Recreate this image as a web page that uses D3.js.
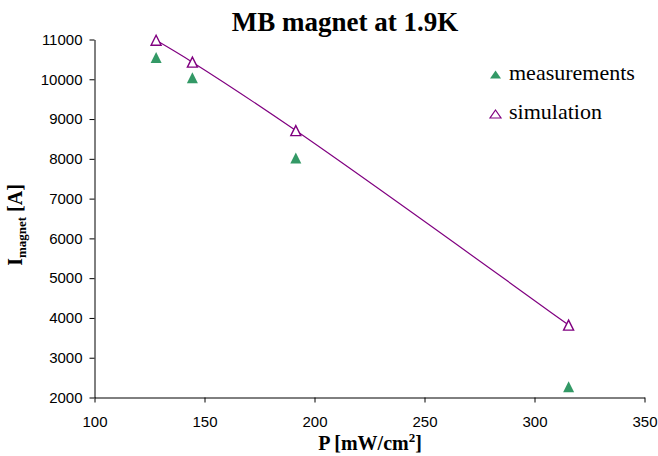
<!DOCTYPE html>
<html>
<head>
<meta charset="utf-8">
<script src="https://cdn.jsdelivr.net/npm/d3@7"></script>
<style>
  body { margin: 0; background: #fff; }
</style>
</head>
<body>
<div id="container"></div>
<script>
  // values
  const power = [128, 144.5, 191.5, 315.5];
  const measured = [10550, 10040, 8020, 2270];
  const simulated = [10980, 10430, 8710, 3820];
  const xTicks = [100, 150, 200, 250, 300, 350];
  const yTicks = [2000, 3000, 4000, 5000, 6000, 7000, 8000, 9000, 10000, 11000];

  const width = 658, height = 456;

  const svg = d3.create("svg")
      .attr("width", width)
      .attr("height", height);

  const x = d3.scaleLinear().domain([100, 350]).range([94.5, 644.5]);
  const y = d3.scaleLinear().domain([2000, 11000]).range([397.5, 39.5]);

  // axes
  const xAxis = svg.append("g")
      .attr("transform", `translate(0,${y(2000)})`)
      .call(d3.axisBottom(x).tickValues(xTicks).tickFormat(d3.format("d"))
        .tickSize(5).tickPadding(14).tickSizeOuter(0));
  const yAxis = svg.append("g")
      .attr("transform", `translate(${x(100)},0)`)
      .call(d3.axisLeft(y).tickValues(yTicks).tickFormat(d3.format("d"))
        .tickSize(5).tickPadding(7).tickSizeOuter(0));

  [xAxis, yAxis].forEach(a => {
    a.selectAll("text")
        .attr("font-family", "Liberation Sans, Arial, sans-serif")
        .attr("font-size", 15)
        .attr("fill", "#000");
    a.selectAll("line, path").attr("stroke", "#000");
  });

  // simulation line (smoothed)
  const pts = power.map((p, i) => [x(p), y(simulated[i])]);
  svg.append("path")
      .attr("d", d3.line().curve(d3.curveCatmullRom.alpha(0.5))(pts))
      .attr("fill", "none")
      .attr("stroke", "#800080")
      .attr("stroke-width", 1.2);

  // triangle centred on its bounding box, like the spreadsheet markers
  const triangle = (w, h) => `M0,${-h / 2}L${w / 2},${h / 2}L${-w / 2},${h / 2}Z`;

  svg.append("g").selectAll("path")
      .data(power)
      .join("path")
      .attr("d", triangle(11, 11))
      .attr("transform", (d, i) => `translate(${x(d)},${y(measured[i])})`)
      .attr("fill", "#339966");

  svg.append("g").selectAll("path")
      .data(power)
      .join("path")
      .attr("d", triangle(10, 10))
      .attr("transform", (d, i) => `translate(${x(d)},${y(simulated[i])})`)
      .attr("fill", "#fff")
      .attr("stroke", "#800080")
      .attr("stroke-width", 1.4);

  // title
  svg.append("text")
      .attr("x", 345)
      .attr("y", 31)
      .attr("text-anchor", "middle")
      .attr("font-family", "Liberation Serif, Times New Roman, serif")
      .attr("font-weight", "bold")
      .attr("font-size", 27)
      .text("MB magnet at 1.9K");

  // x label
  const xl = svg.append("text")
      .attr("x", 370)
      .attr("y", 450)
      .attr("text-anchor", "middle")
      .attr("font-family", "Liberation Serif, Times New Roman, serif")
      .attr("font-weight", "bold")
      .attr("font-size", 20);
  xl.append("tspan").text("P [mW/cm");
  xl.append("tspan").attr("dy", -8).attr("font-size", 13).text("2");
  xl.append("tspan").attr("dy", 8).text("]");

  // y label
  const yl = svg.append("text")
      .attr("transform", "translate(22,225) rotate(-90)")
      .attr("text-anchor", "middle")
      .attr("font-family", "Liberation Serif, Times New Roman, serif")
      .attr("font-weight", "bold")
      .attr("font-size", 20);
  yl.append("tspan").text("I");
  yl.append("tspan").attr("dy", 4).attr("font-size", 13).text("magnet");
  yl.append("tspan").attr("dy", -4).text(" [A]");

  // legend
  const legend = [
    { label: "measurements", fill: "#339966", stroke: "none" },
    { label: "simulation", fill: "#fff", stroke: "#800080" }
  ];
  const lg = svg.append("g").selectAll("g")
      .data(legend)
      .join("g")
      .attr("transform", (d, i) => `translate(495.5,${74.5 + i * 39.5})`);
  lg.append("path")
      .attr("d", triangle(11, 8))
      .attr("fill", d => d.fill)
      .attr("stroke", d => d.stroke)
      .attr("stroke-width", 1.2);
  lg.append("text")
      .attr("x", 13.5)
      .attr("y", 5)
      .attr("font-family", "Liberation Serif, Times New Roman, serif")
      .attr("font-size", 22)
      .text(d => d.label);

  container.append(svg.node());
</script>
</body>
</html>
